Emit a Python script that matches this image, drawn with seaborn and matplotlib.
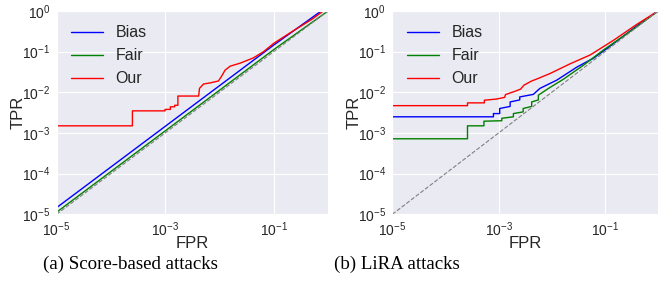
import numpy as np
import pandas as pd
import matplotlib
matplotlib.use("Agg")
import matplotlib.pyplot as plt
import seaborn as sns

# ---- data ----
# (a) Score-based attacks
a_bias_fpr = [1e-5, 1e-1, 0.75, 1.0]
a_bias_tpr = [1.45e-5, 0.145, 1.0, 1.0]
a_fair_fpr = [1e-5, 1e-1, 1.0]
a_fair_tpr = [1.12e-5, 0.112, 1.0]
a_our_fpr = [1e-5, 2.5e-4, 2.5e-4, 1.0e-3, 1.0e-3, 1.25e-3, 1.25e-3, 1.5e-3, 1.5e-3, 1.72e-3,
             1.72e-3, 4.15e-3, 4.3e-3, 5.1e-3, 6.7e-3, 9.6e-3, 0.011, 0.0127, 0.0158,
             0.024, 0.042, 0.065, 0.1, 0.2, 0.5, 0.82]
a_our_tpr = [1.5e-3, 1.5e-3, 3.5e-3, 3.5e-3, 3.8e-3, 3.8e-3, 4.4e-3, 4.4e-3, 4.8e-3, 4.8e-3,
             8.1e-3, 8.1e-3, 0.0125, 0.016, 0.017, 0.019, 0.025, 0.035, 0.044,
             0.052, 0.07, 0.1, 0.16, 0.29, 0.62, 1.0]

# (b) LiRA attacks
b_our_fpr = [1e-5, 2.6e-4, 2.6e-4, 5.4e-4, 5.4e-4, 8.9e-4, 1.3e-3, 1.35e-3, 2.0e-3, 2.6e-3,
             3.0e-3, 4.2e-3, 5.6e-3, 9.3e-3, 0.022, 0.053, 0.145, 0.4, 1.0]
b_our_tpr = [4.7e-3, 4.7e-3, 5.5e-3, 5.5e-3, 6.4e-3, 6.8e-3, 7.5e-3, 8.8e-3, 0.0105, 0.012,
             0.015, 0.019, 0.022, 0.029, 0.05, 0.083, 0.19, 0.47, 1.0]
b_bias_fpr = [1e-5, 8e-4, 8e-4, 1.05e-3, 1.05e-3, 1.65e-3, 1.65e-3, 2.5e-3, 2.5e-3, 4.5e-3,
              6e-3, 0.0125, 0.03, 0.061, 0.11, 0.4, 1.0]
b_bias_tpr = [2.5e-3, 2.5e-3, 3e-3, 3e-3, 4e-3, 4.5e-3, 5.8e-3, 6.5e-3, 7.7e-3, 8.9e-3,
              0.0125, 0.02, 0.042, 0.069, 0.12, 0.43, 1.0]
b_fair_fpr = [1e-5, 2.6e-4, 2.6e-4, 5.3e-4, 5.3e-4, 1.15e-3, 1.15e-3, 1.9e-3, 1.9e-3, 2.9e-3,
              2.9e-3, 4.2e-3, 4.2e-3, 5.6e-3, 5.6e-3, 8.7e-3, 0.0166, 0.04, 0.094, 0.4, 1.0]
b_fair_tpr = [7.2e-4, 7.2e-4, 1.5e-3, 1.5e-3, 1.95e-3, 2.0e-3, 2.3e-3, 2.5e-3, 3.0e-3, 3.3e-3,
              4.0e-3, 4.5e-3, 5.8e-3, 6.5e-3, 8.5e-3, 0.0125, 0.021, 0.047, 0.11, 0.41, 1.0]

diag = [1e-5, 1.0]
x_ticks = [1e-5, 1e-3, 1e-1]
y_ticks = [1e-5, 1e-4, 1e-3, 1e-2, 1e-1, 1e0]
captions = ["(a) Score-based attacks", "(b) LiRA attacks"]

sns.set_style("darkgrid")
plt.rcParams["font.family"] = ["Liberation Sans", "DejaVu Sans"]
plt.rcParams["text.color"] = ".15"
plt.rcParams["axes.labelcolor"] = ".15"
plt.rcParams["xtick.color"] = ".15"
plt.rcParams["ytick.color"] = ".15"

fig = plt.figure(figsize=(6.59, 2.89), dpi=100)
ax1 = fig.add_axes([56.5/659, 1-214.3/289, (328-56.5)/659, (214.3-11)/289])
ax2 = fig.add_axes([392.3/659, 1-214.3/289, (658-392.3)/659, (214.3-11)/289])

panels = [
    (ax1, [(a_bias_fpr, a_bias_tpr, "Bias", "b"), (a_fair_fpr, a_fair_tpr, "Fair", "g"),
           (a_our_fpr, a_our_tpr, "Our", "r")]),
    (ax2, [(b_bias_fpr, b_bias_tpr, "Bias", "b"), (b_fair_fpr, b_fair_tpr, "Fair", "g"),
           (b_our_fpr, b_our_tpr, "Our", "r")]),
]

for ax, series in panels:
    ax.set_xscale("log")
    ax.set_yscale("log")
    for fpr, tpr, name, col in series:
        df = pd.DataFrame({"FPR": fpr, "TPR": tpr})
        sns.lineplot(data=df, x="FPR", y="TPR", ax=ax, color=col, lw=1.0,
                     label=name, sort=False, estimator=None)
    ax.plot(diag, diag, ls="--", color="gray", lw=0.8)
    ax.set_xlim(1e-5, 1)
    ax.set_ylim(1e-5, 1)
    ax.set_xticks(x_ticks)
    ax.set_yticks(y_ticks)
    ax.minorticks_off()
    ax.tick_params(labelsize=10, pad=1)
    ax.set_xlabel("FPR", fontsize=12, labelpad=-2)
    ax.set_ylabel("TPR", fontsize=12, labelpad=-3)
    ax.legend(loc="upper left", frameon=False, fontsize=11.5)

fig.text(130.5/659, 1-264/289, captions[0], family="Liberation Serif", fontsize=13.6,
         ha="center", va="center", color="black")
fig.text(396.7/659, 1-264/289, captions[1], family="Liberation Serif", fontsize=13.6,
         ha="center", va="center", color="black")

fig.savefig("out.png", dpi=100)
